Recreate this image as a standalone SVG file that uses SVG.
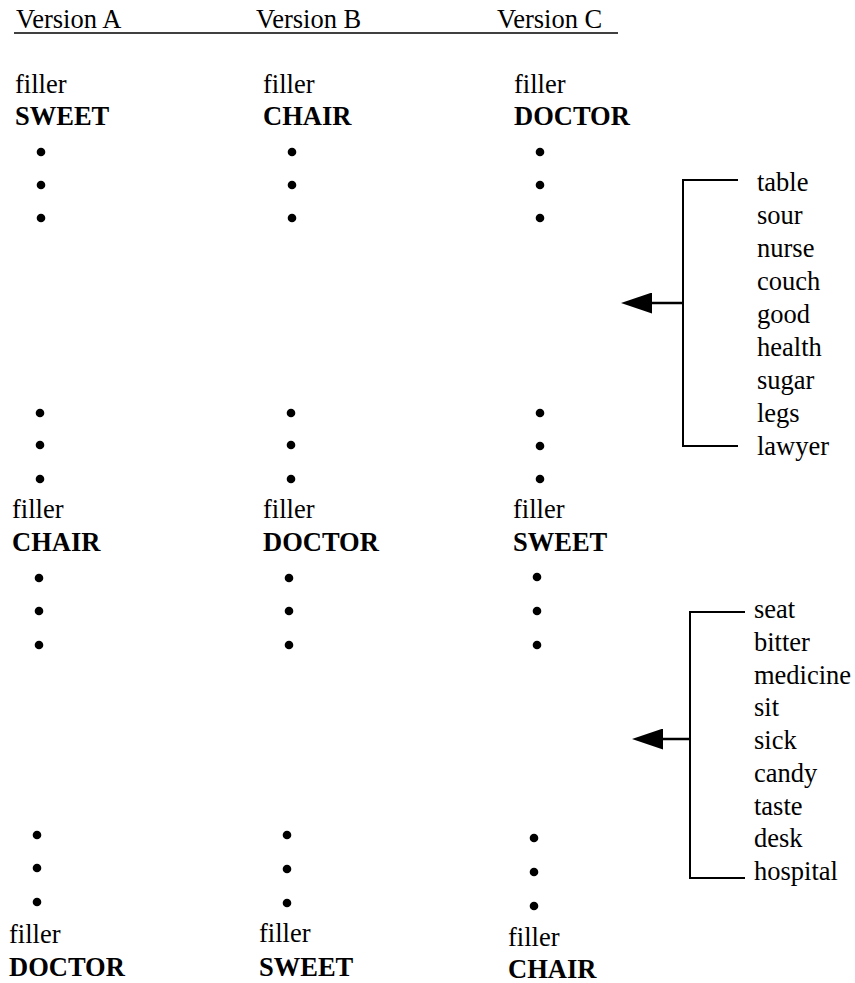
<svg xmlns="http://www.w3.org/2000/svg" width="855" height="983" viewBox="0 0 855 983">
<style>
text{font-family:"Liberation Serif",Tinos,"DejaVu Serif","Noto Serif",serif;font-size:26.5px;fill:#000}
.b{font-weight:bold}
.dot{fill:#000}
.ln{stroke:#000;stroke-width:2;fill:none}
.ar{stroke:#000;stroke-width:2.6;fill:none}
</style>
<defs>
<marker id="ah" viewBox="0 0 31 21" refX="16" refY="10.5" markerWidth="31" markerHeight="21" markerUnits="userSpaceOnUse" orient="auto">
<path d="M0,0 L31,10.5 L0,21 Z" fill="#000"/>
</marker>
</defs>
<rect width="855" height="983" fill="#fff"/>

<g id="header">
<text x="16" y="28">Version A</text>
<text x="256" y="28">Version B</text>
<text x="497" y="28">Version C</text>
<line x1="14" y1="33" x2="618" y2="33" stroke="#000" stroke-width="1.6"/>
</g>

<g id="colA">
<text x="15" y="93">filler</text>
<text class="b" x="15" y="125">SWEET</text>
<circle class="dot" cx="41" cy="152" r="4.3"/><circle class="dot" cx="41" cy="185" r="4.3"/><circle class="dot" cx="41" cy="218" r="4.3"/>
<circle class="dot" cx="40" cy="413" r="4.3"/><circle class="dot" cx="40" cy="445" r="4.3"/><circle class="dot" cx="40" cy="479" r="4.3"/>
<text x="12" y="518">filler</text>
<text class="b" x="12" y="551">CHAIR</text>
<circle class="dot" cx="39" cy="578" r="4.3"/><circle class="dot" cx="39" cy="611" r="4.3"/><circle class="dot" cx="39" cy="645" r="4.3"/>
<circle class="dot" cx="37" cy="835" r="4.3"/><circle class="dot" cx="37" cy="868" r="4.3"/><circle class="dot" cx="37" cy="902" r="4.3"/>
<text x="9" y="943">filler</text>
<text class="b" x="9" y="976">DOCTOR</text>
</g>

<g id="colB">
<text x="263" y="93">filler</text>
<text class="b" x="263" y="125">CHAIR</text>
<circle class="dot" cx="292" cy="152" r="4.3"/><circle class="dot" cx="292" cy="185" r="4.3"/><circle class="dot" cx="292" cy="218" r="4.3"/>
<circle class="dot" cx="291" cy="413" r="4.3"/><circle class="dot" cx="291" cy="445" r="4.3"/><circle class="dot" cx="291" cy="479" r="4.3"/>
<text x="263" y="518">filler</text>
<text class="b" x="263" y="551">DOCTOR</text>
<circle class="dot" cx="289" cy="578" r="4.3"/><circle class="dot" cx="289" cy="611" r="4.3"/><circle class="dot" cx="289" cy="645" r="4.3"/>
<circle class="dot" cx="287" cy="835" r="4.3"/><circle class="dot" cx="287" cy="869" r="4.3"/><circle class="dot" cx="287" cy="903" r="4.3"/>
<text x="259" y="942">filler</text>
<text class="b" x="259" y="976">SWEET</text>
</g>

<g id="colC">
<text x="514" y="93">filler</text>
<text class="b" x="514" y="125">DOCTOR</text>
<circle class="dot" cx="540" cy="152" r="4.3"/><circle class="dot" cx="540" cy="185" r="4.3"/><circle class="dot" cx="540" cy="218" r="4.3"/>
<circle class="dot" cx="540" cy="413" r="4.3"/><circle class="dot" cx="540" cy="446" r="4.3"/><circle class="dot" cx="540" cy="479" r="4.3"/>
<text x="513" y="518">filler</text>
<text class="b" x="513" y="551">SWEET</text>
<circle class="dot" cx="537" cy="577" r="4.3"/><circle class="dot" cx="537" cy="611" r="4.3"/><circle class="dot" cx="537" cy="645" r="4.3"/>
<circle class="dot" cx="534" cy="838" r="4.3"/><circle class="dot" cx="534" cy="872" r="4.3"/><circle class="dot" cx="534" cy="906" r="4.3"/>
<text x="508" y="946">filler</text>
<text class="b" x="508" y="978">CHAIR</text>
</g>

<g id="list1">
<path class="ln" d="M738,180 H683 V446 H738"/>
<text x="757" y="191">table</text>
<text x="757" y="224">sour</text>
<text x="757" y="257">nurse</text>
<text x="757" y="290">couch</text>
<text x="757" y="323">good</text>
<text x="757" y="356">health</text>
<text x="757" y="389">sugar</text>
<text x="757" y="422">legs</text>
<text x="757" y="455">lawyer</text>
</g>

<g id="list2">
<path class="ln" d="M745,612 H690 V878 H745"/>
<text x="754" y="618">seat</text>
<text x="754" y="651">bitter</text>
<text x="754" y="684">medicine</text>
<text x="754" y="716">sit</text>
<text x="754" y="749">sick</text>
<text x="754" y="782">candy</text>
<text x="754" y="815">taste</text>
<text x="754" y="847">desk</text>
<text x="754" y="880">hospital</text>
</g>

<g id="connectors">
<line class="ar" x1="683" y1="303" x2="636" y2="303" marker-end="url(#ah)"/>
<line class="ar" x1="690" y1="739" x2="647" y2="739" marker-end="url(#ah)"/>
</g>
</svg>
